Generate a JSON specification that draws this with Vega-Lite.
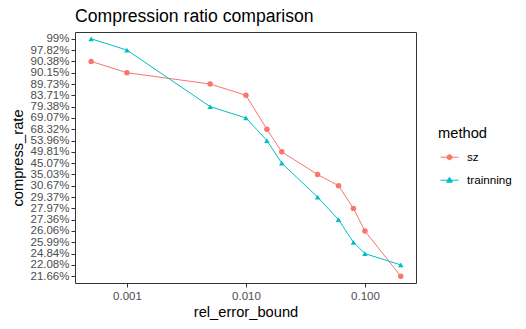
{
  "$schema": "https://vega.github.io/schema/vega-lite/v6.json",
  "width": 341,
  "height": 251,
  "autosize": "none",
  "padding": {"left": 75, "top": 32, "right": 110, "bottom": 46},
  "background": "white",
  "title": {"text": "Compression ratio comparison", "anchor": "start", "frame": "group", "fontSize": 17.6, "fontWeight": "normal", "color": "black", "offset": 6},
  "data": {"values": [
    {"rel_error_bound": 0.0005, "compress_rate": "90.38%", "method": "sz"},
    {"rel_error_bound": 0.001, "compress_rate": "90.15%", "method": "sz"},
    {"rel_error_bound": 0.005, "compress_rate": "89.73%", "method": "sz"},
    {"rel_error_bound": 0.01, "compress_rate": "83.71%", "method": "sz"},
    {"rel_error_bound": 0.015, "compress_rate": "68.32%", "method": "sz"},
    {"rel_error_bound": 0.02, "compress_rate": "49.81%", "method": "sz"},
    {"rel_error_bound": 0.04, "compress_rate": "35.03%", "method": "sz"},
    {"rel_error_bound": 0.06, "compress_rate": "30.67%", "method": "sz"},
    {"rel_error_bound": 0.08, "compress_rate": "27.97%", "method": "sz"},
    {"rel_error_bound": 0.1, "compress_rate": "26.06%", "method": "sz"},
    {"rel_error_bound": 0.2, "compress_rate": "21.66%", "method": "sz"},
    {"rel_error_bound": 0.0005, "compress_rate": "99%", "method": "trainning"},
    {"rel_error_bound": 0.001, "compress_rate": "97.82%", "method": "trainning"},
    {"rel_error_bound": 0.005, "compress_rate": "79.38%", "method": "trainning"},
    {"rel_error_bound": 0.01, "compress_rate": "69.07%", "method": "trainning"},
    {"rel_error_bound": 0.015, "compress_rate": "53.96%", "method": "trainning"},
    {"rel_error_bound": 0.02, "compress_rate": "45.07%", "method": "trainning"},
    {"rel_error_bound": 0.04, "compress_rate": "29.37%", "method": "trainning"},
    {"rel_error_bound": 0.06, "compress_rate": "27.36%", "method": "trainning"},
    {"rel_error_bound": 0.08, "compress_rate": "25.99%", "method": "trainning"},
    {"rel_error_bound": 0.1, "compress_rate": "24.84%", "method": "trainning"},
    {"rel_error_bound": 0.2, "compress_rate": "22.08%", "method": "trainning"}
  ]},
  "encoding": {
    "x": {"field": "rel_error_bound", "type": "quantitative",
      "scale": {"type": "log", "domain": [0.000366, 0.2685], "nice": false, "zero": false},
      "axis": {"values": [0.001, 0.01, 0.1], "format": ".3f", "title": "rel_error_bound", "labelPadding": 3, "titlePadding": 3}},
    "y": {"field": "compress_rate", "type": "ordinal", "sort": "descending",
      "scale": {"type": "point", "padding": 0.6},
      "axis": {"title": "compress_rate", "labelPadding": 2, "titlePadding": 4}},
    "color": {"field": "method", "type": "nominal", "scale": {"range": ["#F8766D", "#00BFC4"]},
      "legend": {"orient": "none", "legendX": 363, "legendY": 94, "padding": 0, "title": "method",
        "titleFontSize": 14.7, "titleFontWeight": "normal", "titleColor": "black", "titlePadding": 7,
        "labelFontSize": 11.7, "labelColor": "black", "labelOffset": 8,
        "symbolSize": 324, "rowPadding": 6, "symbolStrokeWidth": 1, "symbolOffset": 2,
        "encode": {"symbols": {"update": {
          "shape": {"signal": "datum.value === 'sz' ? 'M-1,0H1M-0.28,0A0.28,0.28 0 1,0 0.28,0A0.28,0.28 0 1,0 -0.28,0Z' : 'M-1,0H1M0,-0.33L0.32,0.22L-0.32,0.22Z'"},
          "fill": {"scale": "color", "field": "value"},
          "stroke": {"scale": "color", "field": "value"},
          "strokeWidth": {"value": 1},
          "opacity": {"value": 1}
        }}}}}
  },
  "layer": [
    {
      "mark": {"type": "line", "strokeWidth": 1}
    },
    {
      "mark": {"type": "point", "filled": true, "opacity": 1, "size": 30},
      "encoding": {
        "shape": {"field": "method", "type": "nominal", "scale": {"range": ["circle", "triangle-up"]}, "legend": null}
      }
    }
  ],
  "config": {
    "font": "Liberation Sans",
    "view": {"stroke": "#333333", "strokeWidth": 1},
    "axis": {"grid": false, "domain": false, "tickColor": "#333333", "tickSize": 4, "tickWidth": 1,
      "labelColor": "#4D4D4D", "labelFontSize": 11.5, "titleFontSize": 14.7, "titleFontWeight": "normal", "titleColor": "black"}
  }
}
